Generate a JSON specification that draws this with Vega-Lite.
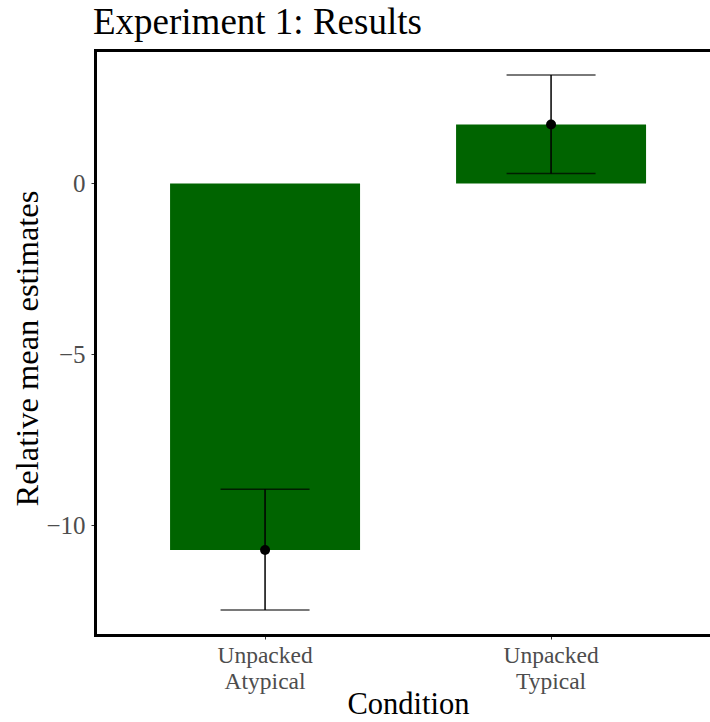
{
  "$schema": "https://vega.github.io/schema/vega-lite/v6.json",
  "width": 615,
  "height": 585,
  "autosize": {"type": "none"},
  "padding": {"left": 95, "top": 50, "right": 0, "bottom": 87},
  "background": "white",
  "config": {
    "view": {"stroke": null},
    "font": "Liberation Serif"
  },
  "title": {
    "text": "Experiment 1: Results",
    "anchor": "start",
    "frame": "group",
    "font": "Liberation Serif",
    "fontSize": 37,
    "fontWeight": "normal",
    "color": "black",
    "baseline": "alphabetic",
    "offset": 14,
    "dx": -2,
    "dy": 35
  },
  "data": {
    "values": [
      {"Condition": "Unpacked Atypical", "mean": -10.73, "lower": -12.49, "upper": -8.95},
      {"Condition": "Unpacked Typical", "mean": 1.73, "lower": 0.29, "upper": 3.18}
    ]
  },
  "resolve": {"axis": {"x": "independent"}},
  "layer": [
    {
      "mark": {"type": "bar", "color": "#006400"},
      "encoding": {
        "x": {
          "field": "Condition", "type": "nominal",
          "scale": {"paddingInner": 0.3357, "paddingOuter": 0.243, "align": 0.54},
          "axis": {
            "orient": "bottom",
            "labelAngle": 0,
            "labelExpr": "split(datum.label, ' ')",
            "labelFont": "Liberation Serif",
            "labelFontSize": 23.5,
            "labelColor": "#4d4d4d",
            "labelLineHeight": 26,
            "labelPadding": 4,
            "tickSize": 4,
            "tickColor": "#333333",
            "tickWidth": 1,
            "domainColor": "black",
            "domainWidth": 3,
            "domainCap": "square",
            "grid": false,
            "title": "Condition",
            "titleFont": "Liberation Serif",
            "titleFontSize": 30.5,
            "titleFontWeight": "normal",
            "titleColor": "black",
            "titleBaseline": "alphabetic",
            "titleAnchor": "start",
            "titleAlign": "center",
            "titleX": 313,
            "titleY": 78
          }
        },
        "y": {
          "field": "mean", "type": "quantitative",
          "scale": {"domain": [-13.221, 3.909], "nice": false, "zero": false},
          "axis": {
            "values": [-10, -5, 0],
            "grid": false,
            "labelFont": "Liberation Serif",
            "labelFontSize": 25,
            "labelColor": "#4d4d4d",
            "labelPadding": 6,
            "tickSize": 4,
            "tickColor": "#333333",
            "tickWidth": 1,
            "domainColor": "black",
            "domainWidth": 3,
            "domainCap": "square",
            "title": "Relative mean estimates",
            "titleFont": "Liberation Serif",
            "titleFontSize": 32.5,
            "titleFontWeight": "normal",
            "titleColor": "black",
            "titleBaseline": "alphabetic",
            "titleAnchor": "start",
            "titleAlign": "center",
            "titleAngle": -90,
            "titleX": -58,
            "titleY": 298
          }
        }
      }
    },
    {
      "mark": {"type": "rule", "color": "black", "strokeWidth": 1.5},
      "encoding": {
        "x": {
          "field": "Condition", "type": "nominal",
          "axis": {
            "orient": "top",
            "labels": false,
            "ticks": false,
            "title": null,
            "domainColor": "black",
            "domainWidth": 3,
            "domainCap": "square",
            "grid": false
          }
        },
        "y": {"field": "lower", "type": "quantitative"},
        "y2": {"field": "upper"}
      }
    },
    {
      "mark": {"type": "tick", "color": "black", "size": 89, "thickness": 1.5},
      "encoding": {
        "x": {"field": "Condition", "type": "nominal", "axis": null},
        "y": {"field": "lower", "type": "quantitative"}
      }
    },
    {
      "mark": {"type": "tick", "color": "black", "size": 89, "thickness": 1.5},
      "encoding": {
        "x": {"field": "Condition", "type": "nominal", "axis": null},
        "y": {"field": "upper", "type": "quantitative"}
      }
    },
    {
      "mark": {"type": "point", "filled": true, "color": "black", "opacity": 1, "size": 100},
      "encoding": {
        "x": {"field": "Condition", "type": "nominal", "axis": null},
        "y": {"field": "mean", "type": "quantitative"}
      }
    }
  ]
}
